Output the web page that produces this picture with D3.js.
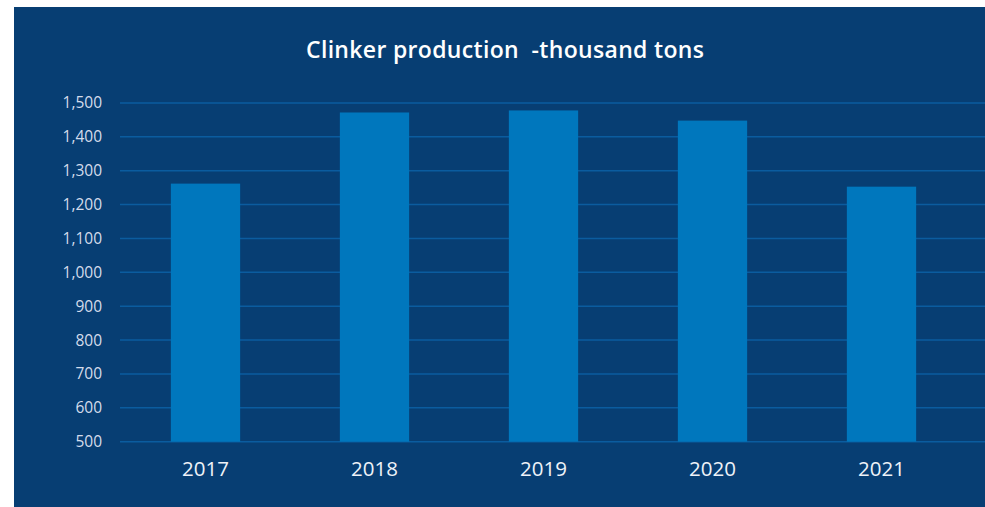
<!DOCTYPE html>
<html>
<head>
<meta charset="utf-8">
<script src="https://cdn.jsdelivr.net/npm/d3@7"></script>
<style>
  body { margin: 0; background: #fff; }
  svg { display: block; font-family: "Open Sans", Lato, sans-serif; }
</style>
</head>
<body>
<svg id="chart"></svg>
<script>
// data
const years = ['2017', '2018', '2019', '2020', '2021'];
const production = [1262, 1472, 1478, 1448, 1253];
const yTicks = [500, 600, 700, 800, 900, 1000, 1100, 1200, 1300, 1400, 1500];
const title = 'Clinker production  -thousand tons';

const width = 985, height = 507;
const margin = { top: 103, right: 19, bottom: 65, left: 121 };
const innerW = 966 - margin.left;
const innerH = 441.7 - margin.top;

const svg = d3.select('#chart')
  .attr('width', width)
  .attr('height', height);

// panel background
svg.append('rect')
  .attr('x', 14).attr('y', 7)
  .attr('width', width - 14).attr('height', height - 7)
  .attr('fill', '#073e73');

svg.append('text')
  .attr('x', 505).attr('y', 58)
  .attr('text-anchor', 'middle')
  .attr('fill', '#ffffff')
  .attr('textLength', 398)
  .attr('lengthAdjust', 'spacing')
  .style('white-space', 'pre')
  .style('font-size', '23px')
  .style('font-weight', 600)
  .text(title);

const chart = svg.append('g')
  .attr('transform', `translate(${margin.left},${margin.top})`);

const x = d3.scaleBand()
  .domain(years)
  .range([0, innerW])
  .paddingInner(0.59)
  .paddingOuter(0.295);

const y = d3.scaleLinear()
  .domain([500, 1500])
  .range([innerH, 0]);

// gridlines
chart.append('g')
  .selectAll('line')
  .data(yTicks)
  .join('line')
  .attr('x1', -1)
  .attr('x2', width - margin.left)
  .attr('y1', d => y(d))
  .attr('y2', d => y(d))
  .attr('stroke', '#0b5c9f')
  .attr('stroke-width', 1.5);

// y labels
const yAxis = d3.axisLeft(y)
  .tickValues(yTicks)
  .tickSize(0)
  .tickPadding(19)
  .tickFormat(d3.format(','));

chart.append('g')
  .call(yAxis)
  .call(g => g.select('.domain').remove())
  .call(g => g.selectAll('text')
    .attr('fill', '#d4dceb')
    .style('font-size', '15.5px')
    .style('font-family', '"Open Sans", Lato, sans-serif'));

// bars
chart.append('g')
  .selectAll('rect')
  .data(years)
  .join('rect')
  .attr('x', d => x(d))
  .attr('width', x.bandwidth())
  .attr('y', (d, i) => y(production[i]))
  .attr('height', (d, i) => innerH - y(production[i]))
  .attr('fill', '#0077bd');

// x labels
const xAxis = d3.axisBottom(x)
  .tickSize(0)
  .tickPadding(20);

chart.append('g')
  .attr('transform', `translate(0,${innerH})`)
  .call(xAxis)
  .call(g => g.select('.domain').remove())
  .call(g => g.selectAll('text')
    .attr('fill', '#eef2f8')
    .style('font-size', '20.5px')
    .style('font-family', '"Open Sans", Lato, sans-serif'));
</script>
</body>
</html>
